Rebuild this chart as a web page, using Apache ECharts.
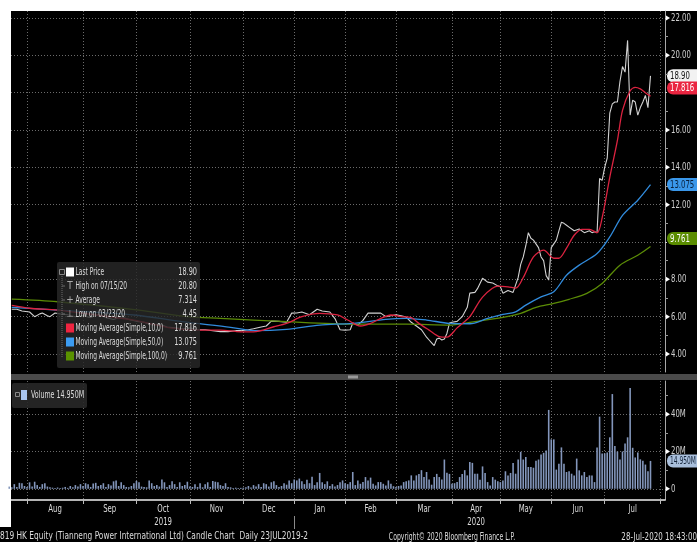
<!DOCTYPE html>
<html><head><meta charset="utf-8">
<script src="https://cdn.jsdelivr.net/npm/echarts@6/dist/echarts.min.js"></script>
<style>
html,body{margin:0;padding:0;background:#fff;}
#wrap{position:relative;width:697px;height:542px;overflow:hidden;}
#bg{position:absolute;left:0;top:0;width:697px;height:542px;background:#000;}
#tb{position:absolute;left:0;top:0;width:697px;height:11px;background:#fff;}
#lb{position:absolute;left:0;top:0;width:11px;height:527px;background:#fff;}
#c{position:absolute;left:0;top:0;width:697px;height:542px;}
</style>
</head><body><div id="wrap"><div id="bg"></div><div id="tb"></div><div id="lb"></div><div id="c"></div></div>
<script>
const FONT = '"Liberation Sans Narrow","DejaVu Sans Condensed","Arial Narrow","Liberation Sans",sans-serif';

// x axis: trading-day index (0 = 23 Jul 2019)
const monthNames = ['Aug','Sep','Oct','Nov','Dec','Jan','Feb','Mar','Apr','May','Jun','Jul'];
const monthStarts = [7,29,50,71,92,112,132,152,174,193,213,234,256];
const yearNames = ['2019','2020'];
const yearMonth = ['Oct','Apr'];
const yearBreakMonth = 'Jan';

// y ticks
const priceTicks = [4,6,8,12,14,16,20,22];
const priceGrid = [4,6,8,10,12,14,16,18,20,22];
const priceMinor = [5,7,9,11,13,15,17,19,21];
const volTicks = [0,20,40];
const volMinor = [10,30,50];

// closing price [day index, HKD]
const price = [[1,6.40],[3,6.40],[5,6.30],[8,6.25],[10,6.00],[12,6.15],[13,6.20],[15,6.05],[16,6.00],[18,6.20],[20,6.15],[23,6.10],[26,6.00],[29,6.05],[32,5.95],[35,6.10],[38,5.95],[41,5.85],[44,6.00],[47,5.85],[50,5.75],[53,5.70],[56,5.55],[59,5.60],[62,5.45],[65,5.40],[68,5.35],[71,5.40],[74,5.30],[77,5.30],[80,5.25],[83,5.20],[86,5.20],[89,5.25],[91,5.25],[94,5.30],[96,5.35],[99,5.45],[101,5.50],[103,5.76],[106,5.75],[109,5.70],[111,6.19],[113,6.20],[115,6.25],[118,6.10],[121,6.40],[123,6.30],[126,6.25],[128,5.90],[130,5.30],[132,5.28],[134,5.30],[135,5.66],[137,5.55],[139,5.80],[141,6.19],[144,6.20],[146,6.19],[148,6.00],[150,6.05],[152,6.10],[154,6.05],[156,5.98],[158,5.70],[160,5.50],[162,5.30],[164,4.90],[165,4.75],[166,4.60],[167,4.45],[168,4.80],[169,4.85],[170,4.75],[171,4.80],[172,5.10],[173,5.66],[174,5.70],[176,5.75],[178,6.00],[180,6.50],[181,7.26],[183,7.30],[184,7.50],[186,8.06],[188,7.85],[190,7.80],[192,7.65],[193,7.60],[194,7.26],[196,7.40],[198,7.30],[199,7.70],[200,8.10],[201,8.80],[202,9.20],[203,9.80],[204,10.50],[205,10.20],[206,10.10],[207,9.90],[208,9.70],[209,9.20],[210,9.00],[211,8.20],[212,7.96],[213,9.70],[214,9.90],[215,10.10],[216,10.60],[217,11.06],[218,11.00],[219,10.90],[220,10.80],[222,10.60],[224,10.70],[226,10.50],[228,10.60],[229,10.50],[230,10.55],[231,10.50],[232,13.40],[233,13.30],[234,14.00],[235,14.50],[236,16.90],[237,17.40],[238,17.50],[239,17.50],[240,18.60],[241,19.40],[242,19.10],[243,20.80],[244,16.80],[245,17.60],[246,17.50],[247,16.80],[248,17.20],[249,17.50],[250,17.85],[251,17.20],[252,18.90]];

const ma10 = [[1,6.60],[8,6.45],[19,6.35],[36,6.05],[49,5.82],[64,5.39],[75,5.28],[83,5.28],[91,5.19],[96,5.19],[104,5.46],[109,5.64],[115,6.00],[122,6.18],[129,6.09],[133,5.82],[138,5.50],[142,5.64],[146,5.91],[150,6.09],[154,6.00],[158,5.95],[161,5.64],[165,5.28],[169,4.93],[172,4.90],[176,5.40],[181,6.00],[186,7.05],[192,7.64],[196,7.60],[199,7.53],[202,8.10],[206,9.20],[210,9.56],[214,9.13],[216,9.13],[219,9.67],[222,10.36],[225,10.68],[228,10.68],[231,10.50],[233,11.30],[236,13.46],[239,15.44],[241,17.05],[244,18.10],[246,18.28],[248,18.20],[250,18.00],[252,17.816]];

const ma50 = [[1,6.50],[19,6.35],[49,6.09],[68,5.73],[87,5.43],[96,5.25],[109,5.32],[122,5.55],[135,5.64],[148,5.86],[156,5.91],[164,5.82],[173,5.64],[181,5.62],[188,5.91],[194,6.12],[199,6.26],[203,6.62],[209,7.06],[214,7.33],[219,8.22],[224,8.76],[231,9.38],[236,10.27],[241,11.43],[247,12.24],[252,13.075]];

const ma100 = [[1,6.94],[19,6.80],[51,6.35],[70,6.00],[83,5.91],[109,5.73],[135,5.60],[156,5.60],[173,5.55],[181,5.70],[194,5.96],[201,6.18],[207,6.50],[214,6.71],[220,6.93],[227,7.25],[233,7.78],[240,8.76],[247,9.29],[252,9.761]];

// daily volume, millions of shares, one per trading day from index 0
const volume = [
1.2,0.8,2.5,1.0,3.2,3.0,1.5,
1.0,3.5,1.2,3.8,2.0,1.0,2.5,3.0,1.2,0.8,0.6,0.5,0.7,0.4,0.6,1.0,0.5,1.5,0.8,2.0,1.2,2.5,
1.5,3.0,2.5,1.0,2.8,3.2,1.5,2.0,3.0,1.0,2.5,1.8,4.0,4.5,1.5,3.5,2.0,1.0,0.8,1.5,3.0,
4.2,3.5,1.2,1.0,0.8,4.5,3.0,1.5,2.0,1.2,5.0,3.5,1.0,2.0,4.0,2.5,1.0,3.5,1.5,2.0,3.8,
1.2,1.0,2.5,1.0,3.0,0.8,2.5,3.5,1.0,4.2,3.8,3.5,2.0,1.5,3.0,1.0,0.8,0.5,0.6,0.4,0.5,
0.6,0.8,1.5,0.7,2.0,1.2,2.5,1.0,3.0,2.5,1.2,3.5,4.0,2.0,1.0,1.5,3.0,2.2,4.5,3.0,
5.0,4.5,5.5,4.0,2.5,4.8,3.0,6.5,2.0,3.5,8.5,3.5,2.5,4.0,1.5,2.5,1.2,2.0,3.5,4.5,
3.0,2.5,3.6,9.0,2.0,4.5,2.7,3.6,6.3,4.5,6.0,2.7,1.8,3.6,3.6,2.7,1.8,4.5,2.7,1.4,
1.0,1.5,1.8,3.6,4.0,4.5,7.2,4.5,7.2,8.0,10.0,6.3,9.0,5.0,2.2,6.3,8.0,6.3,5.0,15.7,8.6,8.0,
2.7,3.0,3.6,6.3,8.0,10.0,7.2,14.4,13.9,8.1,8.1,4.9,12.0,8.5,3.6,1.8,6.3,4.9,4.1,
3.6,4.5,9.4,7.2,8.5,13.9,8.1,15.7,19.8,15.7,17.1,11.7,11.7,11.3,15.0,15.7,18.4,19.3,20.5,42.3,
26.5,26.5,10.3,13.5,22.2,13.5,9.0,9.4,8.1,7.2,16.2,9.9,7.2,9.0,6.3,7.2,7.2,3.6,22.2,38.7,18.9,
19.0,19.5,27.6,50.8,22.9,20.0,15.7,20.0,24.3,27.6,54.0,22.0,16.8,19.5,15.8,15.0,13.0,9.4,14.95];

const legendLabels = ['Last Price','High on 07/15/20','Average','Low on 03/23/20','Moving Average(Simple,10,0)','Moving Average(Simple,50,0)','Moving Average(Simple,100,0)'];
const legendValues = ['18.90','20.80','7.314','4.45','17.816','13.075','9.761'];
const legendIcons = ['sq','T','+','\u22A5','sq','sq','sq'];
const legendColors = ['#ffffff','#aaaaaa','#aaaaaa','#aaaaaa','#ee2440','#3c9cf2','#5a9200'];
const volumeLabel = 'Volume 14.950M';
const volumeBadge = '14.950M';
const footerLeft = '819 HK Equity (Tianneng Power International Ltd) Candle Chart  Daily 23JUL2019-2';
const footerMid = 'Copyright\u00A9 2020 Bloomberg Finance L.P.';
const footerRight = '28-Jul-2020 18:43:00';

const monthMids = monthNames.map((m,i)=>(monthStarts[i]+monthStarts[i+1])/2);
const yearMids = yearMonth.map(m=>monthMids[monthNames.indexOf(m)]);
const last = a => a[a.length-1];

const COL = {price:'#d2d2d2', ma10:'#dc2340', ma50:'#318bdc', ma100:'#5b8c06', vol:'#8396bb'};
const XMIN = 0.7, XMAX = 257.7;
const SX = 0.7; // condensed text
const gridLine = {show:true, lineStyle:{color:'#6b6b6b', type:[1,2], width:1}};

function txt(x, y, text, opt){
  opt = opt || {};
  return {type:'text', x:x, y:y, scaleX:opt.sx||SX, z:opt.z||100,
    style:{text:text, fill:opt.fill||'#d6d6d6', font:(opt.size||11)+'px '+FONT, align:opt.align||'left', verticalAlign:'middle'}};
}

const chart = echarts.init(document.getElementById('c'), null, {renderer:'canvas'});

const option = {
  animation:false,
  backgroundColor:'transparent',
  textStyle:{fontFamily:FONT},
  grid:[
    {left:11, right:32, top:11, height:361},
    {left:11, right:32, top:381, bottom:42}
  ],
  xAxis:[
    {type:'value', gridIndex:0, min:XMIN, max:XMAX, axisLine:{show:false}, axisLabel:{show:false},
      axisTick:{show:false, customValues:monthStarts}, splitLine:gridLine},
    {type:'value', gridIndex:1, min:XMIN, max:XMAX,
      axisLine:{show:true, onZero:false, lineStyle:{color:'#f0f0f0', width:1.5}},
      axisTick:{show:true, length:4, customValues:monthStarts, lineStyle:{color:'#bbbbbb'}},
      axisLabel:{show:false}, splitLine:gridLine}
  ],
  yAxis:[
    {type:'value', gridIndex:0, position:'right', min:3.036, max:22.375,
      axisLine:{show:true, lineStyle:{color:'#a8a8a8'}},
      axisTick:{show:true, length:2, customValues:priceGrid, lineStyle:{color:'#cccccc'}},
      axisLabel:{show:false}, splitLine:gridLine},
    {type:'value', gridIndex:0, position:'right', min:3.036, max:22.375,
      axisLine:{show:false}, axisLabel:{show:false}, splitLine:{show:false},
      axisTick:{show:true, length:3, customValues:priceMinor, lineStyle:{color:'#999999'}}},
    {type:'value', gridIndex:1, position:'right', min:-6, max:57.8,
      axisLine:{show:true, lineStyle:{color:'#a8a8a8'}},
      axisTick:{show:true, length:2, customValues:volTicks, lineStyle:{color:'#cccccc'}},
      axisLabel:{show:false}, splitLine:gridLine},
    {type:'value', gridIndex:1, position:'right', min:-6, max:57.8,
      axisLine:{show:false}, axisLabel:{show:false}, splitLine:{show:false},
      axisTick:{show:true, length:3, customValues:volMinor, lineStyle:{color:'#999999'}}}
  ],
  series:[
    {type:'bar', name:'Volume', xAxisIndex:1, yAxisIndex:2, data:volume.map((v,i)=>[i,v]), barWidth:1.6,
      itemStyle:{color:COL.vol}, z:3},
    {type:'line', name:'Last Price', xAxisIndex:0, yAxisIndex:0, data:price, showSymbol:false,
      lineStyle:{color:COL.price, width:1.1}, z:3},
    {type:'line', name:'MA100', xAxisIndex:0, yAxisIndex:0, data:ma100, showSymbol:false, smooth:0.3,
      lineStyle:{color:COL.ma100, width:1.3}, z:4},
    {type:'line', name:'MA50', xAxisIndex:0, yAxisIndex:0, data:ma50, showSymbol:false, smooth:0.3,
      lineStyle:{color:COL.ma50, width:1.3}, z:4},
    {type:'line', name:'MA10', xAxisIndex:0, yAxisIndex:0, data:ma10, showSymbol:false, smooth:0.3,
      lineStyle:{color:COL.ma10, width:1.3}, z:4}
  ]
};
chart.setOption(option);

// ---- texts and value tags placed through the axes' own scales ----
const toY = (ax, v) => chart.convertToPixel({yAxisIndex:ax}, v);
const toX = (ax, v) => chart.convertToPixel({xAxisIndex:ax}, v);
const AXX = 666;
const g = [];

function arrow(y){ return {type:'polygon', z:100, shape:{points:[[AXX,y-2.5],[AXX+4,y],[AXX,y+2.5]]}, style:{fill:'#ffffff'}}; }
priceTicks.forEach(v=>{ const y=toY(0,v); g.push(arrow(y)); g.push(txt(AXX+5, y, v.toFixed(2), {fill:'#cfcfcf'})); });
volTicks.forEach(v=>{ const y=toY(2,v); g.push(arrow(y)); g.push(txt(AXX+5, y, v===0?'0':v+'M', {fill:'#cfcfcf'})); });
monthMids.forEach((m,i)=>{ g.push(txt(toX(1,m), 509.5, monthNames[i], {align:'center', fill:'#dcdcdc'})); });
yearMids.forEach((m,i)=>{ g.push(txt(toX(1,m), 522, yearNames[i], {align:'center', fill:'#dcdcdc'})); });
const bx = toX(1, monthStarts[monthNames.indexOf(yearBreakMonth)]);
g.push({type:'line', z:100, shape:{x1:Math.round(bx)+0.5,y1:516,x2:Math.round(bx)+0.5,y2:529}, style:{stroke:'#8a8a8a', lineWidth:1}});

function tag(y, text, bg, fg, sx){
  return {type:'group', z:110, x:AXX+1, y:y, children:[
    {type:'rect', shape:{x:0,y:-6.5,width:34,height:13,r:[6,0,0,6]}, style:{fill:bg}},
    {type:'text', x:3, y:0.5, scaleX:sx||SX, style:{text:text, fill:fg, font:'11px '+FONT, verticalAlign:'middle'}}
  ]};
}
g.push(tag(toY(0,last(price)[1]), legendValues[0], '#f2f2f2', '#111111'));
g.push(tag(toY(0,last(ma10)[1])-8, legendValues[4], '#ea2541', '#ffffff'));
g.push(tag(toY(0,last(ma50)[1]), legendValues[5], '#3a97ea', '#08203c'));
g.push(tag(toY(0,last(ma100)[1])-8, legendValues[6], '#5a8c00', '#ffffff'));
g.push(tag(toY(2,last(volume)), volumeBadge, '#a9bfdc', '#14243a', 0.6));

// legend box
g.push({type:'rect', z:100, shape:{x:57,y:262,width:143,height:106,r:2}, style:{fill:'rgba(40,40,40,0.82)'}});
g.push({type:'line', z:101, shape:{x1:62,y1:276,x2:62,y2:358}, style:{stroke:'#6a6a6a', lineWidth:1, lineDash:[1,1]}});
g.push({type:'rect', z:101, shape:{x:59.5,y:269.5,width:5,height:5}, style:{fill:'none', stroke:'#888', lineWidth:1}});
legendLabels.forEach((t,i)=>{
  const y = 272 + i*14;
  if (legendIcons[i]==='sq') g.push({type:'rect', z:101, shape:{x:66,y:y-4.5,width:8,height:9}, style:{fill:legendColors[i]}});
  else {
    g.push({type:'line', z:101, shape:{x1:62,y1:y,x2:65,y2:y}, style:{stroke:'#6a6a6a', lineWidth:1}});
    g.push(txt(70, y, legendIcons[i], {align:'center', fill:'#aaaaaa', z:101, sx:1, size:10}));
  }
  g.push(txt(75.5, y, t, {fill:'#dcdcdc', z:101, sx:0.6}));
  g.push(txt(197, y, legendValues[i], {fill:'#dcdcdc', z:101, align:'right', sx:0.66}));
});

// volume legend
g.push({type:'rect', z:100, shape:{x:12,y:383,width:75,height:25,r:2}, style:{fill:'rgba(40,40,40,0.9)'}});
g.push({type:'rect', z:101, shape:{x:15.5,y:392.5,width:4,height:4}, style:{fill:'none', stroke:'#888', lineWidth:1}});
g.push({type:'rect', z:101, shape:{x:21,y:390,width:6,height:10}, style:{fill:'#a9c5ee'}});
g.push(txt(31, 395.5, volumeLabel, {fill:'#dcdcdc', z:101, sx:0.64}));

// panel separator
g.push({type:'rect', z:100, shape:{x:11,y:374,width:686,height:6}, style:{fill:'#4a4a4a'}});
g.push({type:'rect', z:101, shape:{x:348,y:375.5,width:10,height:3}, style:{fill:'#9a9a9a'}});

// footer
g.push(txt(0, 536.5, footerLeft, {fill:'#dcdcdc', sx:0.75}));
g.push(txt(452, 537, footerMid, {fill:'#dcdcdc', sx:0.62, align:'center'}));
g.push(txt(697, 537, footerRight, {fill:'#dcdcdc', sx:0.72, align:'right'}));

chart.setOption({graphic:g});
</script></body></html>
